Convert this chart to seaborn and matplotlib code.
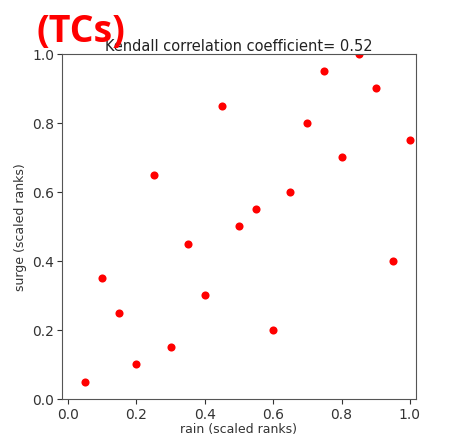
import matplotlib
matplotlib.use("Agg")
import matplotlib.pyplot as plt
import seaborn as sns
import pandas as pd

# scaled ranks
rain = [0.05, 0.10, 0.15, 0.20, 0.25, 0.30, 0.35, 0.40, 0.45, 0.50,
        0.55, 0.60, 0.65, 0.70, 0.75, 0.80, 0.85, 0.90, 0.95, 1.00]
surge = [0.05, 0.35, 0.25, 0.10, 0.65, 0.15, 0.45, 0.30, 0.85, 0.50,
         0.55, 0.20, 0.60, 0.80, 0.95, 0.70, 1.00, 0.90, 0.40, 0.75]
tau = 0.52

df = pd.DataFrame({'rain': rain, 'surge': surge})

sns.set_style('ticks')
plt.rcParams['font.family'] = ['DejaVu Sans']

fig = plt.figure(figsize=(4.6, 4.39), dpi=100)
ax = fig.add_axes([0.135, 0.089, 0.769, 0.786])
sns.scatterplot(x='rain', y='surge', data=df, color='red', s=34, linewidth=0, ax=ax)

ax.set_xlim(-0.0175, 1.0175)
ax.set_ylim(0, 1.0)
ax.set_xticks([0.0, 0.2, 0.4, 0.6, 0.8, 1.0])
ax.set_yticks([0.0, 0.2, 0.4, 0.6, 0.8, 1.0])
ax.tick_params(labelsize=10, colors='#333333', length=3.5, pad=2)
for sp in ax.spines.values():
    sp.set_color('#555555')
ax.set_xlabel('rain (scaled ranks)', fontsize=9, color='#333333', labelpad=1)
ax.set_ylabel('surge (scaled ranks)', fontsize=9, color='#333333', labelpad=4)
ax.set_title(f'Kendall correlation coefficient= {tau}', fontsize=10.5, color='#222222', pad=3)

fig.text(0.08, 0.905, '(TCs)', color='red', fontsize=27, fontweight='bold',
         family=['Open Sans', 'DejaVu Sans'])

fig.savefig('out.png', dpi=100)
